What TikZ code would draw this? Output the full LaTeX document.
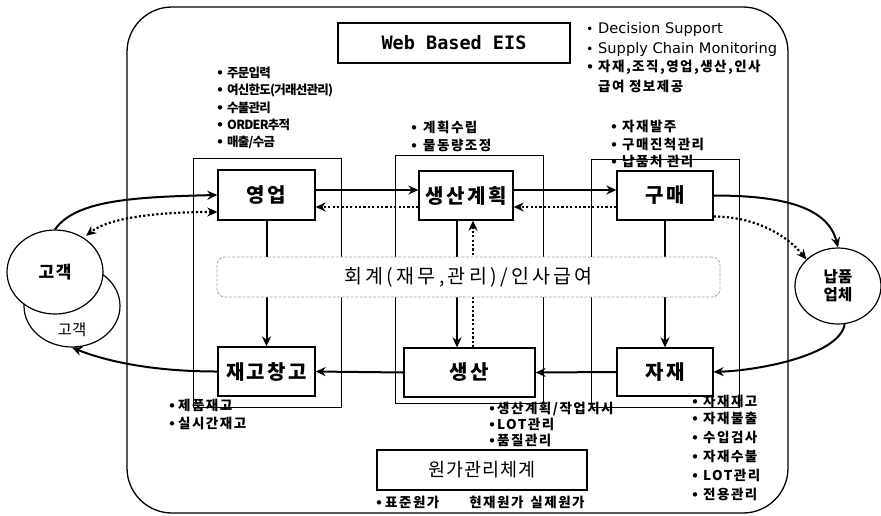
\documentclass[tikz,border=0pt]{standalone}
\usepackage{fontspec}
\usetikzlibrary{arrows.meta,shapes.geometric}
\newfontfamily\kr{Noto Sans CJK KR}
\newfontfamily\dv{DejaVu Sans}
\newfontfamily\dvm{DejaVu Sans Mono}
\newcommand\bl[1][10pt]{\makebox[#1][l]{\dv\fontsize{12.5}{14}\selectfont •}}
\begin{document}
\begin{tikzpicture}[x=1pt,y=-1pt,
  box/.style={draw,line width=1.3pt,fill=white,inner sep=0pt,
    font=\kr\bfseries\fontsize{20}{23}\selectfont\addfontfeature{LetterSpace=12}},
  frame/.style={draw,line width=0.8pt},
  sm/.style={anchor=base west,inner sep=0pt,
    font=\kr\bfseries\fontsize{13.5}{15}\selectfont\addfontfeature{LetterSpace=11}},
  smA/.style={anchor=base west,inner sep=0pt,
    font=\kr\bfseries\fontsize{12.5}{14}\selectfont\addfontfeature{LetterSpace=-6}},
  en/.style={anchor=base west,inner sep=0pt,font=\dv\fontsize{14.6}{18}\selectfont},
  arr/.style={line width=2pt,-{Stealth[length=10pt,width=9pt]}},
  dotarr/.style={line width=2.2pt,dash pattern=on 2.2pt off 2.2pt,-{Stealth[length=10pt,width=9pt]}},
  dotboth/.style={line width=2.2pt,dash pattern=on 2.2pt off 2.2pt,{Stealth[length=10pt,width=9pt]}-{Stealth[length=10pt,width=9pt]}},
  circ/.style={ellipse,draw,line width=1.2pt,fill=white,inner sep=0pt}
]
\fill[white] (0,0) rectangle (881,515);
\useasboundingbox (0,0) rectangle (881,515);

% big frame
\draw[line width=1.3pt,rounded corners=45pt] (127,7) rectangle (788,513);
% column frames
\draw[frame] (193,158) rectangle (341,407);
\draw[frame] (395,155) rectangle (543,403);
\draw[frame] (591,159) rectangle (739,407);

% title boxes
\node[draw,line width=1.3pt,minimum width=232pt,minimum height=40pt,inner sep=0pt,
  font=\dvm\bfseries\fontsize{18.5}{20}\selectfont] (web) at (454,43) {Web Based EIS};
\node[draw,line width=1.3pt,minimum width=210pt,minimum height=40pt,inner sep=0pt,
  font=\kr\fontsize{18.5}{20}\selectfont\addfontfeature{LetterSpace=6}] (wonga) at (482,470) {원가관리체계};

% main boxes
\node[box,minimum width=97pt,minimum height=50pt] (yeongeop) at (266.5,195) {영업};
\node[box,minimum width=94pt,minimum height=49pt] (gyehoek) at (466,195.5) {생산계획};
\node[box,minimum width=96pt,minimum height=49pt] (gumae) at (665,195.5) {구매};
\node[box,minimum width=97pt,minimum height=49pt] (jaego) at (266.5,371.5) {재고창고};
\node[box,minimum width=131pt,minimum height=49pt] (saengsan) at (469.5,372.5) {생산};
\node[box,minimum width=96pt,minimum height=48pt] (jajae) at (665,372) {자재};

% customers and supplier
\node[circ,minimum width=96pt,minimum height=82pt] (g2) at (72,306) {};
\node[inner sep=0pt,font=\kr\fontsize{15.5}{18}\selectfont] (g2t) at (72,330) {고객};
\node[circ,minimum width=96pt,minimum height=84pt,
  font=\kr\bfseries\fontsize{17}{20}\selectfont\addfontfeature{LetterSpace=10}] (g1) at (55,272) {고객};
\node[circ,minimum width=86pt,minimum height=76pt,align=center,
  font=\kr\bfseries\fontsize{15.5}{18}\selectfont] (nappum) at (838,286) {납품\\업체};

% horizontal connectors
\draw[arr] ([yshift=5pt]yeongeop.east) -- ([yshift=5.5pt]gyehoek.west);
\draw[dotarr] ([yshift=-11.5pt]gyehoek.west) -- ([yshift=-12pt]yeongeop.east);
\draw[arr] ([yshift=5.5pt]gyehoek.east) -- ([yshift=5.5pt]gumae.west);
\draw[dotarr] ([yshift=-11.5pt]gumae.west) -- ([yshift=-11.5pt]gyehoek.east);
\draw[arr] (jajae.west) -- (saengsan.east);
\draw[arr] (saengsan.west) -- (jaego.east);

% vertical connectors
\draw[arr] (yeongeop.south) -- (jaego.north);
\draw[arr] ([xshift=-9pt]gyehoek.south) -- ([xshift=-12.5pt]saengsan.north);
\draw[dotarr] ([xshift=3.5pt]saengsan.north) -- ([xshift=7pt]gyehoek.south);
\draw[arr] (gumae.south) -- (jajae.north);

% curved connectors
\draw[arr] (g1.north) .. controls +(20,-28) and +(-90,2) .. (yeongeop.west);
\draw[dotboth,shorten >=3pt] ([yshift=-17pt]yeongeop.west) .. controls +(-60,0) and +(25,-20) .. (g1.50);
\draw[arr] (jaego.west) .. controls +(-70,0) and +(30,12) .. (g2.south);
\draw[arr] (gumae.east) .. controls +(70,0) and +(-10,-40) .. (nappum.north);
\draw[dotarr] ([yshift=-21pt]gumae.east) .. controls +(40,0) and +(-20,-25) .. (nappum.140);
\draw[arr] (nappum.-80) .. controls +(-5,30) and +(50,-2) .. (jajae.east);

% accounting band
\node[draw=gray!70,line width=0.8pt,dash pattern=on 3pt off 1.5pt,rounded corners=8pt,fill=white,
  minimum width=503pt,minimum height=40pt,inner sep=0pt,
  font=\kr\fontsize{19.5}{22}\selectfont\addfontfeature{LetterSpace=17}] (acct) at (468.5,277) {회계(재무,관리)/인사급여};

% text lists
\node[en] (d1) at (586,33.5) {\bl[12pt]Decision Support};
\node[en] (d2) at (586,53.5) {\bl[12pt]Supply Chain Monitoring};
\node[sm] (d3) at (586,71.8) {\bl[12pt]자재,조직,영업,생산,인사};
\node[sm] (d4) at (598,91.8) {급여 정보제공};

\node[smA] (a1) at (216,77.6) {\bl[11pt]주문입력};
\node[smA] (a2) at (216,94.9) {\bl[11pt]여신한도(거래선관리)};
\node[smA] (a3) at (216,112.2) {\bl[11pt]수불관리};
\node[smA] (a4) at (216,129.5) {\bl[11pt]ORDER추적};
\node[smA] (a5) at (216,146.8) {\bl[11pt]매출/수금};

\node[sm] (b1) at (410,132.8) {\bl[13pt]계획수립};
\node[sm] (b2) at (410,150.8) {\bl[13pt]물동량조정};

\node[sm] (c1) at (610,131.8) {\bl[12pt]자재발주};
\node[sm] (c2) at (610,149.3) {\bl[12pt]구매진척관리};
\node[sm] (c3) at (610,166.8) {\bl[12pt]납품처 관리};

\node[sm] (e1) at (168,410.8) {\bl[10pt]제품재고};
\node[sm] (e2) at (168,428.8) {\bl[10pt]실시간재고};

\node[sm] (f1) at (488,413.8) {\bl[9pt]생산계획/작업지시};
\node[sm] (f2) at (488,429.8) {\bl[9pt]LOT관리};
\node[sm] (f3) at (488,445.8) {\bl[9pt]품질관리};

\node[sm] (h1) at (691,406.8) {\bl[12pt]자재재고};
\node[sm] (h2) at (691,423.8) {\bl[12pt]자재불출};
\node[sm] (h3) at (691,442.8) {\bl[12pt]수입검사};
\node[sm] (h4) at (691,461.8) {\bl[12pt]자재수불};
\node[sm] (h5) at (691,480.8) {\bl[12pt]LOT관리};
\node[sm] (h6) at (691,499.8) {\bl[12pt]전용관리};

\node[sm] (k1) at (375,507.8) {\bl[10pt]표준원가\hspace{30pt}현재원가\hspace{7pt}실제원가};
\end{tikzpicture}
\end{document}
